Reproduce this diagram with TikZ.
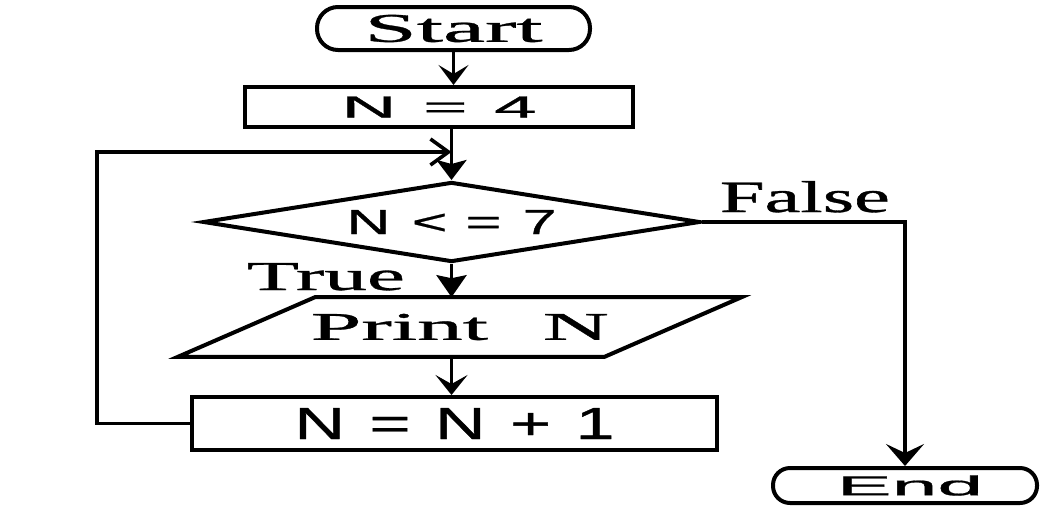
\documentclass[tikz,border=0pt]{standalone}
\usepackage{fontspec}
\setmainfont{Liberation Serif}[FakeBold=0.7]
\newfontfamily\sansf{Liberation Sans}[FakeBold=0.7]
\usepackage{graphicx}
\usetikzlibrary{arrows.meta,shapes.geometric}
\newcommand\fitbox[3]{\resizebox{#1pt}{#2pt}{#3}}
\begin{document}
\begin{tikzpicture}[x=1pt,y=-1pt,
  line width=3.6pt,
  boxn/.style={draw, line width=4pt, rectangle, inner sep=0pt},
  term/.style={draw, line width=4pt, rectangle, rounded corners=#1, inner sep=0pt},
  lbl/.style={anchor=base west, inner sep=0pt},
  vhead/.style={-{Stealth[length=20pt,width=30pt,inset=9pt]}},
  fhead/.style={-{Stealth[length=20pt,width=30pt,inset=4pt]}},
  bhead/.style={-{Straight Barb[length=18pt,width=26pt]}}
]
\fill[white] (0,0) rectangle (1040,509);
\useasboundingbox (0,0) rectangle (1040,509);

\node[term=21pt, minimum width=273pt, minimum height=43pt] (start) at (453.5,28.5)
  {\fitbox{178}{27}{Start}};
\node[boxn, minimum width=388pt, minimum height=40pt] (n4) at (439,107)
  {\fitbox{195}{21}{\sansf N\hspace{.35em}=\hspace{.35em}4}};
\node[draw, diamond, aspect=6.2, minimum width=497pt, minimum height=80pt, inner sep=0pt, line width=4pt] (dia) at (451.5,222)
  {\fitbox{210}{24}{\sansf N\hspace{.35em}<\hspace{.3em}=\hspace{.35em}7}};
\node[inner sep=0pt, minimum width=423pt, minimum height=56pt] (print) at (459.75,327)
  {\fitbox{298}{26}{Print\hspace{.6em}N}};
\draw[line width=4pt, line join=miter] ([xshift=68.5pt]print.north west) -- ([xshift=68.5pt]print.north east)
  -- ([xshift=-68.5pt]print.south east) -- ([xshift=-68.5pt]print.south west) -- cycle;
\node[boxn, minimum width=525pt, minimum height=53pt] (inc) at (454.5,423.5)
  {\fitbox{320}{31}{\sansf N\hspace{.35em}=\hspace{.35em}N\hspace{.35em}+\hspace{.35em}1}};
\node[term=17pt, minimum width=264pt, minimum height=35pt] (endn) at (905,485.5)
  {\hspace{10pt}\fitbox{146}{20}{\sansf End}};

\node[lbl] (ltrue) at (245,290) {\fitbox{158}{27}{True}};
\node[lbl] (lfalse) at (718,212) {\fitbox{170}{31}{False}};

\coordinate (lc) at (97,152);
\coordinate (join) at (dia.north |- lc);

\draw[vhead] (start.south) -- (start.south |- n4.north);
\draw[fhead] (dia.north |- n4.south) -- (dia.north);
\draw[bhead] (inc.west) -| (lc) -- (join);
\draw[-{Stealth[length=22pt,width=30pt,inset=3pt]}] (dia.south) -- (dia.south |- print.north);
\draw[-{Stealth[length=20pt,width=32pt,inset=9pt]}] (dia.south |- print.south) -- (dia.south |- inc.north);
\draw[-{Stealth[length=22pt,width=38pt,inset=9pt]}] (dia.east) -| (endn.north);
\end{tikzpicture}
\end{document}
